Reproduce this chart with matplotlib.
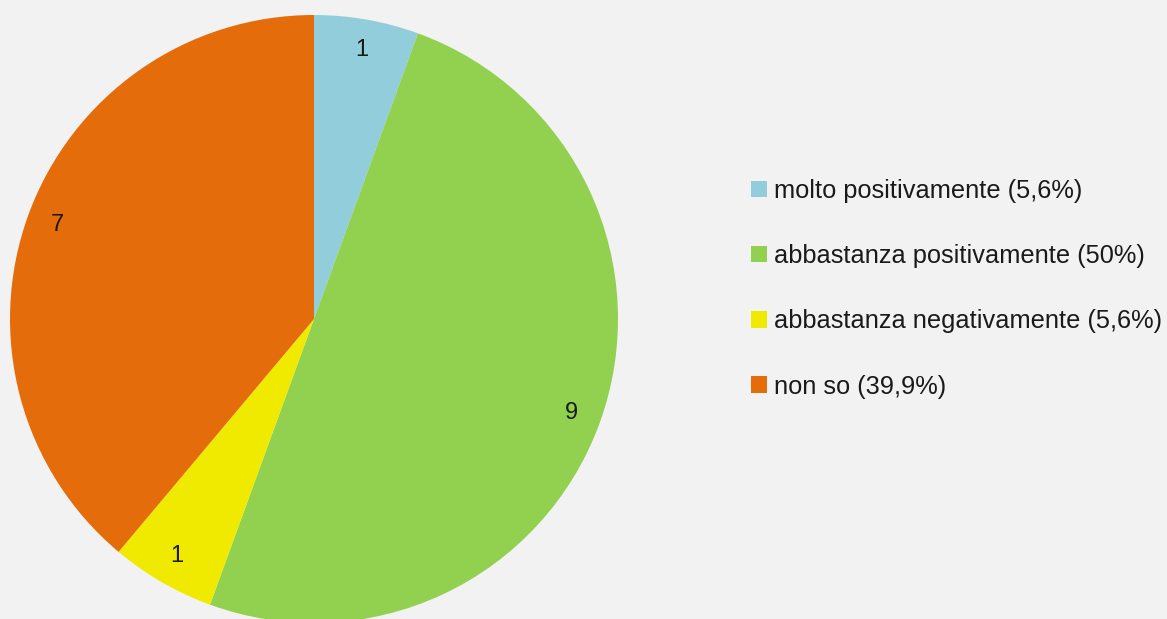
import matplotlib
matplotlib.use("Agg")
import matplotlib.pyplot as plt

categories = ["molto positivamente (5,6%)", "abbastanza positivamente (50%)",
              "abbastanza negativamente (5,6%)", "non so (39,9%)"]
values = [1, 9, 1, 7]
colors = ["#92CDDC", "#92D050", "#F0EA00", "#E46C0A"]

W, H = 1167, 619
fig = plt.figure(figsize=(W / 100, H / 100), dpi=100, facecolor="#F2F2F2")
ax = fig.add_axes([0, 0, 1, 1])
ax.set_facecolor("#F2F2F2")

font = "Liberation Sans"
wedges, texts = ax.pie(values, colors=colors, startangle=90, counterclock=False,
                       center=(314, H - 319), radius=304, labels=[str(v) for v in values],
                       labeldistance=0.9, frame=True,
                       textprops=dict(fontsize=17, color="#1a1a1a", family=font))
for t in texts:
    t.set_ha("center")
    t.set_va("center")
ax.set_xlim(0, W)
ax.set_ylim(0, H)
ax.set_aspect("equal")
ax.axis("off")

leg = ax.legend(wedges, categories, loc="upper left", bbox_to_anchor=(751 / W, 1 - 179 / H),
                frameon=False, handlelength=0.62, handleheight=0.62, handletextpad=0.3,
                labelspacing=1.62, borderpad=0, borderaxespad=0,
                prop=dict(family=font, size=18.3))
for txt in leg.get_texts():
    txt.set_color("#1a1a1a")

fig.savefig("out.png", dpi=100, facecolor="#F2F2F2")
